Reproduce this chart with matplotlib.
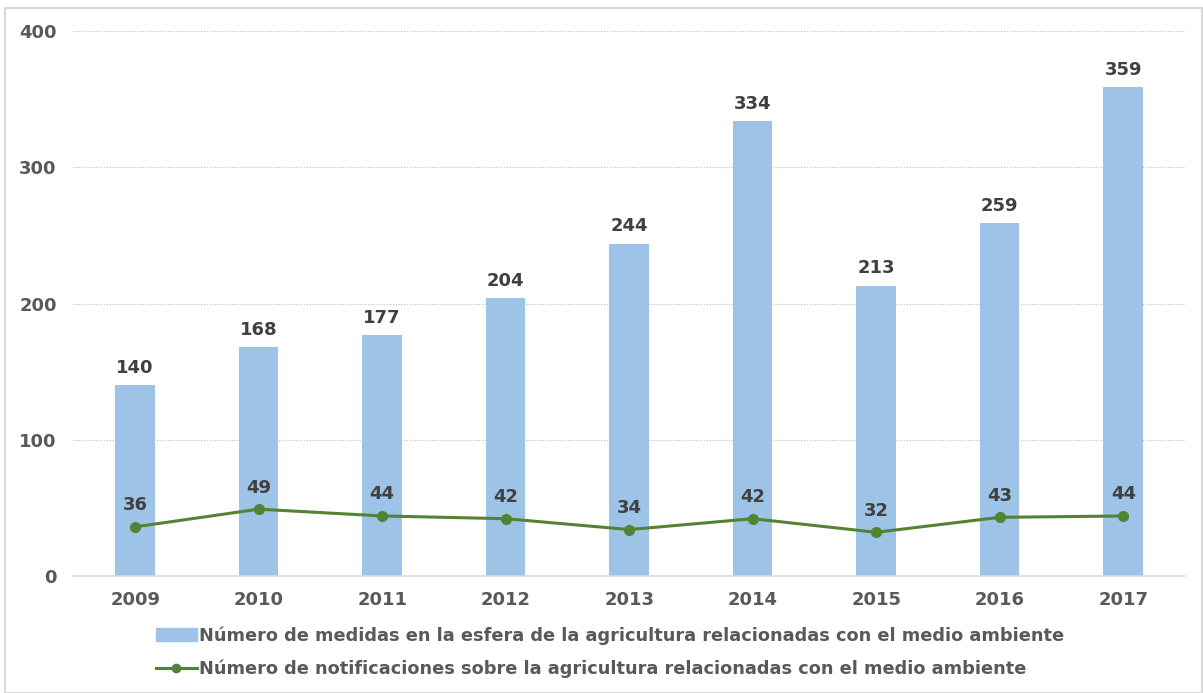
import matplotlib.pyplot as plt
from matplotlib.patches import Rectangle
from matplotlib.lines import Line2D
import numpy as np

years = ['2009', '2010', '2011', '2012', '2013', '2014', '2015', '2016', '2017']
medidas = [140, 168, 177, 204, 244, 334, 213, 259, 359]
notificaciones = [36, 49, 44, 42, 34, 42, 32, 43, 44]
label_bar = 'Número de medidas en la esfera de la agricultura relacionadas con el medio ambiente'
label_line = 'Número de notificaciones sobre la agricultura relacionadas con el medio ambiente'

bar_color = '#9DC3E6'
line_color = '#548235'
txt = '#404040'
tick_col = '#595959'

plt.rcParams['font.family'] = 'sans-serif'
plt.rcParams['font.sans-serif'] = ['DejaVu Sans']
plt.rcParams['font.weight'] = 'bold'
fig = plt.figure(figsize=(12.03, 6.93), dpi=100)
ax = fig.add_axes([0.061, 0.169, 0.924, 0.786])

x = np.arange(len(years))
ax.bar(x, medidas, width=0.32, color=bar_color, zorder=2)
ax.plot(x, notificaciones, color=line_color, lw=2.2, marker='o', ms=7, zorder=3)

for xi, v in zip(x, medidas):
    ax.annotate(str(v), (xi, v), xytext=(0, 6), textcoords='offset points',
                ha='center', va='bottom', fontsize=13, fontweight='bold', color=txt)
for xi, v in zip(x, notificaciones):
    ax.annotate(str(v), (xi, v), xytext=(0, 9), textcoords='offset points',
                ha='center', va='bottom', fontsize=13, fontweight='bold', color=txt)

ax.set_xlim(-0.5, len(years) - 0.5)
ax.set_ylim(0, 400)
ax.set_yticks([0, 100, 200, 300, 400])
ax.set_xticks(x)
ax.set_xticklabels(years)
ax.yaxis.grid(True, linestyle=(0, (1, 1.5)), color='#BFBFBF', lw=0.8, zorder=0)
for s in ['top', 'right', 'left']:
    ax.spines[s].set_visible(False)
ax.spines['bottom'].set_color('#D9D9D9')
ax.spines['bottom'].set_linewidth(1.2)
ax.tick_params(axis='both', length=0, labelsize=13, labelcolor=tick_col)
ax.tick_params(axis='x', pad=11)
ax.tick_params(axis='y', pad=12)
for lab in ax.get_xticklabels() + ax.get_yticklabels():
    lab.set_fontweight('bold')

handles = [Rectangle((0, 0), 1, 1, color=bar_color),
           Line2D([0], [0], color=line_color, lw=2.2, marker='o', ms=6)]
fig.legend(handles, [label_bar, label_line], loc='center left',
           bbox_to_anchor=(0.116, 0.059), frameon=False, ncol=1,
           prop={'size': 12.8, 'weight': 'bold'}, labelcolor=tick_col,
           handlelength=2.35, handletextpad=0.08, labelspacing=0.82)

fig.patches.append(Rectangle((0.004, 0.0), 0.995, 0.988, transform=fig.transFigure,
                             fill=False, edgecolor='#D9D9D9', lw=1.5))

fig.savefig('out.png', dpi=100)
